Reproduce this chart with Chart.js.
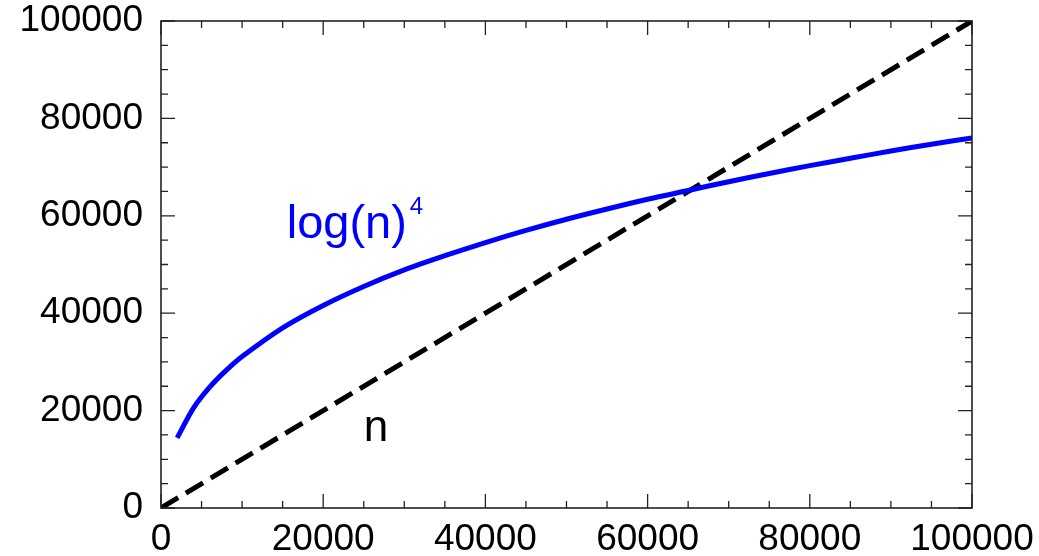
<!DOCTYPE html>
<html lang="en">
<head>
<meta charset="UTF-8">
<title>log(n)^4 vs n</title>
<script src="https://cdn.jsdelivr.net/npm/chart.js"></script>
<style>
  html, body { margin: 0; padding: 0; background: #fff; }
  #wrap { width: 1039px; height: 556px; }
</style>
</head>
<body>
<div id="wrap"><canvas id="grafico" width="1039" height="556"></canvas></div>
<script>
// values
var nValues = [2000, 4000, 6000, 8000, 10000, 15000, 20000, 25000, 30000, 35000, 40000,
               45000, 50000, 55000, 60000, 65000, 70000, 75000, 80000, 85000, 90000, 95000, 100000];
var logValues = [14400, 20500, 24800, 28200, 31100, 37000, 41600, 45500, 48900, 51800, 54500,
                 57000, 59300, 61400, 63400, 65200, 67000, 68700, 70300, 71800, 73300, 74700, 76000];
var linearX = [0, 100000];
var linearY = [0, 100000];
var xTicks = [0, 20000, 40000, 60000, 80000, 100000];
var yTicks = [0, 20000, 40000, 60000, 80000, 100000];

var fonte = 'Liberation Sans, Arial, Helvetica, sans-serif';

function pares(xs, ys) {
  var out = [];
  for (var i = 0; i < xs.length; i++) out.push({x: xs[i], y: ys[i]});
  return out;
}

// frame, inward ticks (major + minor) and the two text labels
var moldura = {
  id: 'moldura',
  afterDraw: function (chart) {
    var ctx = chart.ctx, a = chart.chartArea;
    var xs = chart.scales.x, ys = chart.scales.y;
    ctx.save();
    ctx.strokeStyle = '#222';
    ctx.lineWidth = 1.6;
    ctx.strokeRect(a.left, a.top, a.right - a.left, a.bottom - a.top);
    ctx.lineWidth = 1.3;
    ctx.beginPath();
    for (var v = 0; v <= 100000; v += 5000) {
      var len = (v % 20000 === 0) ? 14 : 7;
      var px = xs.getPixelForValue(v);
      ctx.moveTo(px, a.bottom); ctx.lineTo(px, a.bottom - len);
      ctx.moveTo(px, a.top); ctx.lineTo(px, a.top + len);
      var py = ys.getPixelForValue(v);
      ctx.moveTo(a.left, py); ctx.lineTo(a.left + len, py);
      ctx.moveTo(a.right, py); ctx.lineTo(a.right - len, py);
    }
    ctx.stroke();

    ctx.textBaseline = 'alphabetic';
    ctx.textAlign = 'left';
    ctx.fillStyle = '#0000ff';
    ctx.font = '47px ' + fonte;
    var lx = xs.getPixelForValue(15500), ly = ys.getPixelForValue(55500);
    ctx.fillText('log(n)', lx, ly);
    var w = ctx.measureText('log(n)').width;
    ctx.font = '24px ' + fonte;
    ctx.fillText('4', lx + w + 3, ly - 24);

    ctx.fillStyle = '#000';
    ctx.font = '44px ' + fonte;
    ctx.fillText('n', xs.getPixelForValue(25000), ys.getPixelForValue(13700));
    ctx.restore();
  }
};

var ctx = document.getElementById('grafico').getContext('2d');
var chart = new Chart(ctx, {
  type: 'scatter',
  data: {
    datasets: [
      {
        label: 'log(n)^4',
        data: pares(nValues, logValues),
        showLine: true,
        borderColor: '#0000ff',
        borderWidth: 5,
        pointRadius: 0,
        tension: 0.3,
        fill: false
      },
      {
        label: 'n',
        data: pares(linearX, linearY),
        showLine: true,
        borderColor: '#000',
        borderWidth: 5,
        borderDash: [20, 9],
        pointRadius: 0,
        fill: false
      }
    ]
  },
  options: {
    responsive: false,
    animation: false,
    layout: { padding: { left: 0, top: 21, right: 67, bottom: 0 } },
    plugins: { legend: { display: false }, tooltip: { enabled: false } },
    scales: {
      x: {
        type: 'linear',
        min: 0, max: 100000,
        afterBuildTicks: function (s) { s.ticks = xTicks.map(function (v) { return {value: v}; }); },
        afterFit: function (s) { s.height = 48; s.paddingLeft = 0; s.paddingRight = 0; },
        grid: { display: false, drawTicks: false },
        border: { display: false },
        ticks: { color: '#000', font: { size: 37, family: fonte }, padding: 10, maxRotation: 0,
                 callback: function (v) { return String(v); } }
      },
      y: {
        type: 'linear',
        min: 0, max: 100000,
        afterBuildTicks: function (s) { s.ticks = yTicks.map(function (v) { return {value: v}; }); },
        afterFit: function (s) { s.width = 161; s.paddingTop = 0; s.paddingBottom = 0; },
        grid: { display: false, drawTicks: false },
        border: { display: false },
        ticks: { color: '#000', font: { size: 37, family: fonte }, padding: 18,
                 callback: function (v) { return String(v); } }
      }
    }
  },
  plugins: [moldura]
});
</script>
</body>
</html>
